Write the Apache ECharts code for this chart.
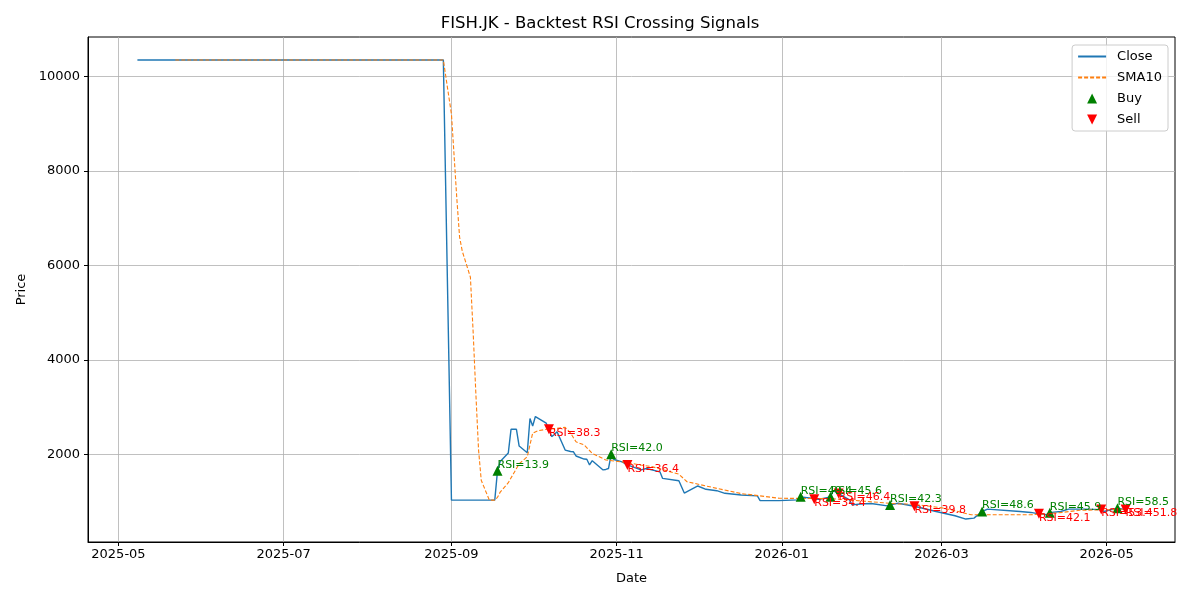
<!DOCTYPE html>
<html>
<head>
<meta charset="utf-8">
<title>FISH.JK - Backtest RSI Crossing Signals</title>
<script src="https://cdn.jsdelivr.net/npm/echarts@6/dist/echarts.min.js"></script>
<style>
  html, body { margin: 0; padding: 0; background: #fff; }
  #main { width: 1200px; height: 600px; }
</style>
</head>
<body>
<div id="main"></div>
<script>
// closing price
const closeDates = [
  '2025-05-08', '2025-08-29', '2025-09-01', '2025-09-17', '2025-09-18', '2025-09-19',
  '2025-09-22', '2025-09-23', '2025-09-25', '2025-09-26', '2025-09-29', '2025-09-30',
  '2025-10-01', '2025-10-02', '2025-10-06', '2025-10-07', '2025-10-08', '2025-10-09',
  '2025-10-10', '2025-10-13', '2025-10-15', '2025-10-16', '2025-10-17', '2025-10-20',
  '2025-10-21', '2025-10-22', '2025-10-23', '2025-10-27', '2025-10-28', '2025-10-29',
  '2025-10-30', '2025-10-31', '2025-11-03', '2025-11-05', '2025-11-10', '2025-11-12',
  '2025-11-17', '2025-11-18', '2025-11-24', '2025-11-26', '2025-12-01', '2025-12-04',
  '2025-12-08', '2025-12-11', '2025-12-17', '2025-12-23', '2025-12-24', '2025-12-31',
  '2026-01-07', '2026-01-08', '2026-01-12', '2026-01-13', '2026-01-15', '2026-01-19',
  '2026-01-20', '2026-01-22', '2026-01-26', '2026-01-27', '2026-01-30', '2026-02-03',
  '2026-02-09', '2026-02-10', '2026-02-13', '2026-02-19', '2026-02-27', '2026-03-06',
  '2026-03-10', '2026-03-13', '2026-03-16', '2026-03-18', '2026-03-30', '2026-04-03',
  '2026-04-06', '2026-04-09', '2026-04-10', '2026-04-14', '2026-04-17', '2026-04-23',
  '2026-04-29', '2026-04-30', '2026-05-05', '2026-05-08'
];
const closeValues = [
  10350, 10350, 1030, 1030, 1650, 1850,
  2030, 2530, 2530, 2175, 2035, 2760,
  2600, 2800, 2660, 2530, 2375, 2420,
  2480, 2090, 2060, 2055, 1965, 1900,
  1895, 1775, 1865, 1670, 1680, 1700,
  2000, 1890, 1840, 1775, 1670, 1700,
  1630, 1490, 1440, 1180, 1330, 1260,
  1230, 1175, 1140, 1120, 1020, 1020,
  1035, 1100, 1070, 1050, 1050, 1100,
  1230, 1170, 1035, 930, 950, 960,
  910, 930, 965, 900, 790, 700,
  630, 650, 790, 840, 790, 770,
  740, 720, 765, 790, 840, 840,
  830, 790, 860, 830
];

// 10-day moving average
const smaDates = [
  '2025-05-22', '2025-08-29', '2025-09-01', '2025-09-02', '2025-09-03', '2025-09-04',
  '2025-09-05', '2025-09-08', '2025-09-09', '2025-09-10', '2025-09-11', '2025-09-12',
  '2025-09-15', '2025-09-17', '2025-09-18', '2025-09-19', '2025-09-22', '2025-09-24',
  '2025-09-26', '2025-09-29', '2025-10-01', '2025-10-03', '2025-10-06', '2025-10-10',
  '2025-10-13', '2025-10-15', '2025-10-17', '2025-10-20', '2025-10-23', '2025-10-28',
  '2025-11-03', '2025-11-10', '2025-11-14', '2025-11-24', '2025-11-27', '2025-12-08',
  '2025-12-17', '2025-12-31', '2026-01-20', '2026-02-02', '2026-02-13', '2026-02-18',
  '2026-03-02', '2026-03-12', '2026-03-20', '2026-04-03', '2026-04-13', '2026-04-21',
  '2026-05-04', '2026-05-08'
];
const smaValues = [
  10350, 10350, 9200, 8300, 7400, 6600,
  6300, 5750, 4600, 3300, 2100, 1450,
  1030, 1030, 1090, 1200, 1400, 1600,
  1800, 1950, 2450, 2500, 2530, 2550,
  2570, 2450, 2265, 2200, 2020, 1880,
  1840, 1775, 1740, 1580, 1420, 1280,
  1170, 1070, 1060, 1000, 950, 950,
  860, 720, 720, 720, 760, 815,
  830, 840
];

// signals: date, price, RSI at the crossing
const buyDates = ['2025-09-18', '2025-10-30', '2026-01-08', '2026-01-19', '2026-02-10', '2026-03-16', '2026-04-10', '2026-05-05'];
const buyPrices = [1650, 2000, 1100, 1100, 930, 790, 765, 860];
const buyRsi = [13.9, 42.0, 49.4, 45.6, 42.3, 48.6, 45.9, 58.5];

const sellDates = ['2025-10-07', '2025-11-05', '2026-01-13', '2026-01-22', '2026-02-19', '2026-04-06', '2026-04-29', '2026-05-08'];
const sellPrices = [2530, 1775, 1050, 1170, 900, 740, 830, 830];
const sellRsi = [38.3, 36.4, 34.4, 46.4, 39.8, 42.1, 53.4, 51.8];

const xTicks = ['2025-05-01', '2025-07-01', '2025-09-01', '2025-11-01', '2026-01-01', '2026-03-01', '2026-05-01'];
const yTicks = [2000, 4000, 6000, 8000, 10000];

const t = s => new Date(s.length > 10 ? s : s + 'T00:00:00').getTime();
const zip = (d, v, extra) => d.map((x, i) => extra ? [t(x), v[i], extra[i]] : [t(x), v[i]]);
const pad = n => (n < 10 ? '0' : '') + n;
const fmtMonth = v => { const d = new Date(v); return d.getFullYear() + '-' + pad(d.getMonth() + 1); };

const font = 'DejaVu Sans';
const upTri = 'path://M1,0L2,2L0,2Z';
const downTri = 'path://M0,0L2,0L1,2Z';
const chart = echarts.init(document.getElementById('main'));

const option = {
  animation: false,
  backgroundColor: '#fff',
  textStyle: { fontFamily: font },
  title: {
    text: 'FISH.JK - Backtest RSI Crossing Signals',
    left: 'center',
    top: 15,
    padding: 0,
    textStyle: { fontFamily: font, fontSize: 16.5, fontWeight: 'normal', color: '#000' }
  },
  legend: {
    orient: 'vertical',
    right: 32,
    top: 45,
    padding: [5, 6, 5, 5],
    itemGap: 8,
    itemWidth: 28,
    itemHeight: 10,
    borderColor: '#cccccc',
    borderWidth: 1,
    borderRadius: 3,
    backgroundColor: 'rgba(255,255,255,0.8)',
    textStyle: { fontFamily: font, fontSize: 13, color: '#000', padding: [0, 0, 0, 6] },
    data: [
      { name: 'Close', itemStyle: { opacity: 0 } },
      { name: 'SMA10', itemStyle: { opacity: 0 } },
      { name: 'Buy', icon: upTri },
      { name: 'Sell', icon: downTri }
    ]
  },
  grid: {
    left: 88, right: 25, top: 37, bottom: 58,
    show: true, borderColor: '#000', borderWidth: 1, backgroundColor: 'transparent'
  },
  xAxis: {
    type: 'value',
    min: t('2025-04-19T18:00:00'),
    max: t('2026-05-26T06:00:00'),
    name: 'Date',
    nameLocation: 'middle',
    nameGap: 30,
    nameTextStyle: { fontFamily: font, fontSize: 13, color: '#000' },
    axisLine: { show: true, onZero: false, lineStyle: { color: '#000', width: 1 } },
    axisTick: { show: true, length: 4, lineStyle: { color: '#000' }, customValues: xTicks.map(t) },
    axisLabel: {
      fontFamily: font, fontSize: 13, color: '#000', margin: 6,
      customValues: xTicks.map(t),
      formatter: fmtMonth
    },
    splitLine: { show: true, lineStyle: { color: '#b0b0b0', width: 0.8 } }
  },
  yAxis: {
    type: 'value',
    min: 144,
    max: 10836,
    name: 'Price',
    nameLocation: 'middle',
    nameGap: 53,
    nameTextStyle: { fontFamily: font, fontSize: 13, color: '#000' },
    axisLine: { show: true, onZero: false, lineStyle: { color: '#000', width: 1 } },
    axisTick: { show: true, length: 4, lineStyle: { color: '#000' }, customValues: yTicks },
    axisLabel: {
      fontFamily: font, fontSize: 13, color: '#000', margin: 8,
      customValues: yTicks,
      formatter: v => String(v)
    },
    splitLine: { show: true, lineStyle: { color: '#b0b0b0', width: 0.8 } }
  },
  series: [
    {
      name: 'Close',
      type: 'line',
      symbol: 'none',
      data: zip(closeDates, closeValues),
      lineStyle: { color: '#1f77b4', width: 1.4 },
      itemStyle: { color: '#1f77b4' },
      z: 2
    },
    {
      name: 'SMA10',
      type: 'line',
      symbol: 'none',
      data: zip(smaDates, smaValues),
      lineStyle: { color: '#ff7f0e', width: 1.1, type: [4, 2] },
      itemStyle: { color: '#ff7f0e' },
      z: 3
    },
    {
      name: 'Buy',
      type: 'scatter',
      symbol: upTri,
      symbolSize: 10,
      data: zip(buyDates, buyPrices, buyRsi),
      itemStyle: { color: '#008000', opacity: 1 },
      label: {
        show: true,
        position: ['50%', -1],
        align: 'left',
        verticalAlign: 'middle',
        fontFamily: font,
        fontSize: 11,
        color: '#008000',
        formatter: p => 'RSI=' + p.value[2].toFixed(1)
      },
      z: 5
    },
    {
      name: 'Sell',
      type: 'scatter',
      symbol: downTri,
      symbolSize: 10,
      data: zip(sellDates, sellPrices, sellRsi),
      itemStyle: { color: '#ff0000', opacity: 1 },
      label: {
        show: true,
        position: ['50%', 9],
        align: 'left',
        verticalAlign: 'middle',
        fontFamily: font,
        fontSize: 11,
        color: '#ff0000',
        formatter: p => 'RSI=' + p.value[2].toFixed(1)
      },
      z: 5
    }
  ]
};

chart.setOption(option);
</script>
</body>
</html>
